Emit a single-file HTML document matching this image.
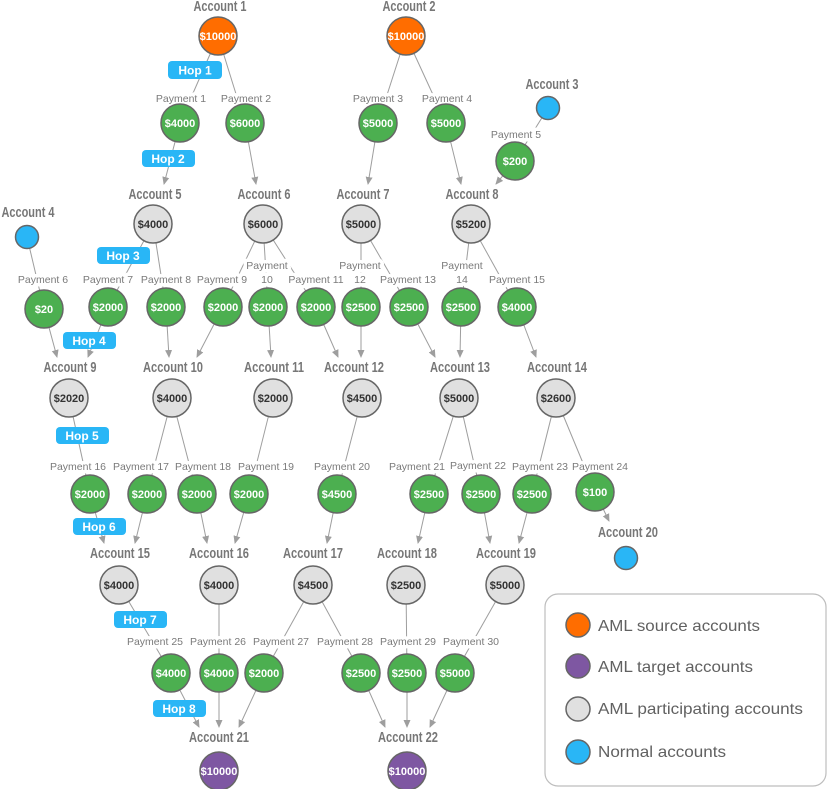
<!DOCTYPE html>
<html><head><meta charset="utf-8"><style>
html,body{margin:0;padding:0;background:#fff;}
svg{display:block;}
.l{stroke:#9e9e9e;stroke-width:1;fill:none;}
.a{stroke:#9e9e9e;stroke-width:1;fill:none;marker-end:url(#ar);}
.acc{font-family:"Liberation Sans",sans-serif;font-weight:bold;font-size:14.5px;fill:#777;text-anchor:middle;}
.pay{font-family:"Liberation Sans",sans-serif;font-size:10.5px;fill:#7a7a7a;text-anchor:middle;stroke:#fff;stroke-width:7px;paint-order:stroke;stroke-linejoin:round;}
.g{fill:#4caf50;stroke:#666;stroke-width:1.5;}
.o{fill:#ff6d00;stroke:#666;stroke-width:1.5;}
.p{fill:#7e57a2;stroke:#666;stroke-width:1.5;}
.y{fill:#e0e0e0;stroke:#666;stroke-width:1.5;}
.b{fill:#29b6f6;stroke:#666;stroke-width:1.5;}
.vw{font-family:"Liberation Sans",sans-serif;font-weight:bold;font-size:11px;fill:#fff;text-anchor:middle;}
.vd{font-family:"Liberation Sans",sans-serif;font-weight:bold;font-size:11px;fill:#333;text-anchor:middle;}
.hop rect{fill:#29b6f6;}
.hop text{font-family:"Liberation Sans",sans-serif;font-weight:bold;font-size:12px;fill:#fff;text-anchor:middle;}
.lg{font-family:"Liberation Sans",sans-serif;font-size:16px;fill:#616161;}
</style></head><body>
<svg width="827" height="789" viewBox="0 0 827 789" xmlns="http://www.w3.org/2000/svg">
<defs><marker id="ar" markerWidth="8" markerHeight="8" refX="7" refY="4" orient="auto" markerUnits="userSpaceOnUse"><path d="M0,0.5 L8,4 L0,7.5 z" fill="#9e9e9e"/></marker></defs>

<g class="l">
<line x1="218" y1="36" x2="180" y2="123"/><line x1="218" y1="36" x2="245" y2="123"/>
<line x1="406" y1="36" x2="378" y2="123"/><line x1="406" y1="36" x2="446" y2="123"/>
<line x1="548" y1="108" x2="515" y2="161"/><line x1="27" y1="237" x2="44" y2="309"/>
<line x1="153" y1="224" x2="108" y2="307"/><line x1="153" y1="224" x2="166" y2="307"/>
<line x1="263" y1="224" x2="223" y2="307"/><line x1="263" y1="224" x2="268" y2="307"/><line x1="263" y1="224" x2="316" y2="307"/>
<line x1="361" y1="224" x2="361" y2="307"/><line x1="361" y1="224" x2="409" y2="307"/>
<line x1="471" y1="224" x2="461" y2="307"/><line x1="471" y1="224" x2="517" y2="307"/>
<line x1="69" y1="398" x2="90" y2="494"/><line x1="172" y1="398" x2="147" y2="494"/><line x1="172" y1="398" x2="197" y2="494"/>
<line x1="273" y1="398" x2="249" y2="494"/><line x1="362" y1="398" x2="337" y2="494"/>
<line x1="459" y1="398" x2="429" y2="494"/><line x1="459" y1="398" x2="481" y2="494"/>
<line x1="556" y1="398" x2="532" y2="494"/><line x1="556" y1="398" x2="595" y2="492"/>
<line x1="119" y1="585" x2="171" y2="673"/><line x1="219" y1="585" x2="219" y2="673"/>
<line x1="313" y1="585" x2="264" y2="673"/><line x1="313" y1="585" x2="361" y2="673"/>
<line x1="406" y1="585" x2="407" y2="673"/><line x1="505" y1="585" x2="455" y2="673"/>
</g>
<g class="a">
<line x1="180" y1="123" x2="164" y2="184"/><line x1="245" y1="123" x2="256" y2="184"/>
<line x1="378" y1="123" x2="368" y2="184"/><line x1="446" y1="123" x2="461" y2="184"/>
<line x1="515" y1="161" x2="496" y2="184"/>
<line x1="44" y1="309" x2="57" y2="357"/><line x1="108" y1="307" x2="88" y2="357"/>
<line x1="166" y1="307" x2="169" y2="357"/><line x1="223" y1="307" x2="197" y2="357"/>
<line x1="268" y1="307" x2="271" y2="357"/><line x1="316" y1="307" x2="338" y2="357"/>
<line x1="361" y1="307" x2="361" y2="357"/><line x1="409" y1="307" x2="435" y2="357"/>
<line x1="461" y1="307" x2="460" y2="357"/><line x1="517" y1="307" x2="536" y2="357"/>
<line x1="90" y1="494" x2="104" y2="543"/><line x1="147" y1="494" x2="135" y2="543"/>
<line x1="197" y1="494" x2="207" y2="543"/><line x1="249" y1="494" x2="235" y2="543"/>
<line x1="337" y1="494" x2="327" y2="543"/><line x1="429" y1="494" x2="418" y2="543"/>
<line x1="481" y1="494" x2="490" y2="543"/><line x1="532" y1="494" x2="519" y2="543"/>
<line x1="595" y1="492" x2="609" y2="521"/>
<line x1="171" y1="673" x2="199" y2="727"/><line x1="219" y1="673" x2="219" y2="727"/>
<line x1="264" y1="673" x2="239" y2="727"/><line x1="361" y1="673" x2="385" y2="727"/>
<line x1="407" y1="673" x2="407" y2="727"/><line x1="455" y1="673" x2="430" y2="727"/>
</g>

<g class="hop">
<rect x="168" y="61" width="54" height="18" rx="4"/><text x="195" y="74.5">Hop 1</text>
<rect x="142" y="150" width="53" height="17" rx="4"/><text x="168" y="163">Hop 2</text>
<rect x="97" y="247" width="53" height="17" rx="4"/><text x="123" y="260">Hop 3</text>
<rect x="63" y="332" width="53" height="17" rx="4"/><text x="89" y="345">Hop 4</text>
<rect x="56" y="427" width="53" height="17" rx="4"/><text x="82" y="440">Hop 5</text>
<rect x="73" y="518" width="53" height="17" rx="4"/><text x="99" y="531">Hop 6</text>
<rect x="114" y="611" width="53" height="17" rx="4"/><text x="140" y="624">Hop 7</text>
<rect x="153" y="700" width="53" height="17" rx="4"/><text x="179" y="713">Hop 8</text>
</g>

<g class="acc">
<text x="220" y="11" textLength="53" lengthAdjust="spacingAndGlyphs">Account 1</text>
<text x="409" y="11" textLength="53" lengthAdjust="spacingAndGlyphs">Account 2</text>
<text x="552" y="89" textLength="53" lengthAdjust="spacingAndGlyphs">Account 3</text>
<text x="28" y="217" textLength="53" lengthAdjust="spacingAndGlyphs">Account 4</text>
<text x="155" y="199" textLength="53" lengthAdjust="spacingAndGlyphs">Account 5</text>
<text x="264" y="199" textLength="53" lengthAdjust="spacingAndGlyphs">Account 6</text>
<text x="363" y="199" textLength="53" lengthAdjust="spacingAndGlyphs">Account 7</text>
<text x="472" y="199" textLength="53" lengthAdjust="spacingAndGlyphs">Account 8</text>
<text x="70" y="372" textLength="53" lengthAdjust="spacingAndGlyphs">Account 9</text>
<text x="173" y="372" textLength="60" lengthAdjust="spacingAndGlyphs">Account 10</text>
<text x="274" y="372" textLength="60" lengthAdjust="spacingAndGlyphs">Account 11</text>
<text x="354" y="372" textLength="60" lengthAdjust="spacingAndGlyphs">Account 12</text>
<text x="460" y="372" textLength="60" lengthAdjust="spacingAndGlyphs">Account 13</text>
<text x="557" y="372" textLength="60" lengthAdjust="spacingAndGlyphs">Account 14</text>
<text x="120" y="558" textLength="60" lengthAdjust="spacingAndGlyphs">Account 15</text>
<text x="219" y="558" textLength="60" lengthAdjust="spacingAndGlyphs">Account 16</text>
<text x="313" y="558" textLength="60" lengthAdjust="spacingAndGlyphs">Account 17</text>
<text x="407" y="558" textLength="60" lengthAdjust="spacingAndGlyphs">Account 18</text>
<text x="506" y="558" textLength="60" lengthAdjust="spacingAndGlyphs">Account 19</text>
<text x="628" y="537" textLength="60" lengthAdjust="spacingAndGlyphs">Account 20</text>
<text x="219" y="742" textLength="60" lengthAdjust="spacingAndGlyphs">Account 21</text>
<text x="408" y="742" textLength="60" lengthAdjust="spacingAndGlyphs">Account 22</text>
</g>

<g class="pay">
<text x="181" y="102">Payment 1</text><text x="246" y="102">Payment 2</text>
<text x="378" y="102">Payment 3</text><text x="447" y="102">Payment 4</text>
<text x="516" y="138">Payment 5</text>
<text x="43" y="283">Payment 6</text><text x="108" y="283">Payment 7</text><text x="166" y="283">Payment 8</text>
<text x="222" y="283">Payment 9</text>
<text x="267" y="269">Payment</text><text x="267" y="283">10</text>
<text x="316" y="283">Payment 11</text>
<text x="360" y="269">Payment</text><text x="360" y="283">12</text>
<text x="408" y="283">Payment 13</text>
<text x="462" y="269">Payment</text><text x="462" y="283">14</text>
<text x="517" y="283">Payment 15</text>
<text x="78" y="470">Payment 16</text><text x="141" y="470">Payment 17</text><text x="203" y="470">Payment 18</text>
<text x="266" y="470">Payment 19</text><text x="342" y="470">Payment 20</text><text x="417" y="470">Payment 21</text>
<text x="478" y="469">Payment 22</text><text x="540" y="470">Payment 23</text><text x="600" y="470">Payment 24</text>
<text x="155" y="645">Payment 25</text><text x="218" y="645">Payment 26</text><text x="281" y="645">Payment 27</text>
<text x="345" y="645">Payment 28</text><text x="408" y="645">Payment 29</text><text x="471" y="645">Payment 30</text>
</g>

<circle class="o" cx="218" cy="36" r="19"/><text class="vw" x="218" y="40">$10000</text>
<circle class="o" cx="406" cy="36" r="19"/><text class="vw" x="406" y="40">$10000</text>
<circle class="b" cx="548" cy="108" r="11.5"/>
<circle class="b" cx="27" cy="237" r="11.5"/>
<circle class="b" cx="626" cy="558" r="11.5"/>

<circle class="g" cx="180" cy="123" r="19"/><text class="vw" x="180" y="127">$4000</text>
<circle class="g" cx="245" cy="123" r="19"/><text class="vw" x="245" y="127">$6000</text>
<circle class="g" cx="378" cy="123" r="19"/><text class="vw" x="378" y="127">$5000</text>
<circle class="g" cx="446" cy="123" r="19"/><text class="vw" x="446" y="127">$5000</text>
<circle class="g" cx="515" cy="161" r="19"/><text class="vw" x="515" y="165">$200</text>

<circle class="y" cx="153" cy="224" r="19"/><text class="vd" x="153" y="228">$4000</text>
<circle class="y" cx="263" cy="224" r="19"/><text class="vd" x="263" y="228">$6000</text>
<circle class="y" cx="361" cy="224" r="19"/><text class="vd" x="361" y="228">$5000</text>
<circle class="y" cx="471" cy="224" r="19"/><text class="vd" x="471" y="228">$5200</text>

<circle class="g" cx="44" cy="309" r="19"/><text class="vw" x="44" y="313">$20</text>
<circle class="g" cx="108" cy="307" r="19"/><text class="vw" x="108" y="311">$2000</text>
<circle class="g" cx="166" cy="307" r="19"/><text class="vw" x="166" y="311">$2000</text>
<circle class="g" cx="223" cy="307" r="19"/><text class="vw" x="223" y="311">$2000</text>
<circle class="g" cx="268" cy="307" r="19"/><text class="vw" x="268" y="311">$2000</text>
<circle class="g" cx="316" cy="307" r="19"/><text class="vw" x="316" y="311">$2000</text>
<circle class="g" cx="361" cy="307" r="19"/><text class="vw" x="361" y="311">$2500</text>
<circle class="g" cx="409" cy="307" r="19"/><text class="vw" x="409" y="311">$2500</text>
<circle class="g" cx="461" cy="307" r="19"/><text class="vw" x="461" y="311">$2500</text>
<circle class="g" cx="517" cy="307" r="19"/><text class="vw" x="517" y="311">$4000</text>

<circle class="y" cx="69" cy="398" r="19"/><text class="vd" x="69" y="402">$2020</text>
<circle class="y" cx="172" cy="398" r="19"/><text class="vd" x="172" y="402">$4000</text>
<circle class="y" cx="273" cy="398" r="19"/><text class="vd" x="273" y="402">$2000</text>
<circle class="y" cx="362" cy="398" r="19"/><text class="vd" x="362" y="402">$4500</text>
<circle class="y" cx="459" cy="398" r="19"/><text class="vd" x="459" y="402">$5000</text>
<circle class="y" cx="556" cy="398" r="19"/><text class="vd" x="556" y="402">$2600</text>

<circle class="g" cx="90" cy="494" r="19"/><text class="vw" x="90" y="498">$2000</text>
<circle class="g" cx="147" cy="494" r="19"/><text class="vw" x="147" y="498">$2000</text>
<circle class="g" cx="197" cy="494" r="19"/><text class="vw" x="197" y="498">$2000</text>
<circle class="g" cx="249" cy="494" r="19"/><text class="vw" x="249" y="498">$2000</text>
<circle class="g" cx="337" cy="494" r="19"/><text class="vw" x="337" y="498">$4500</text>
<circle class="g" cx="429" cy="494" r="19"/><text class="vw" x="429" y="498">$2500</text>
<circle class="g" cx="481" cy="494" r="19"/><text class="vw" x="481" y="498">$2500</text>
<circle class="g" cx="532" cy="494" r="19"/><text class="vw" x="532" y="498">$2500</text>
<circle class="g" cx="595" cy="492" r="19"/><text class="vw" x="595" y="496">$100</text>

<circle class="y" cx="119" cy="585" r="19"/><text class="vd" x="119" y="589">$4000</text>
<circle class="y" cx="219" cy="585" r="19"/><text class="vd" x="219" y="589">$4000</text>
<circle class="y" cx="313" cy="585" r="19"/><text class="vd" x="313" y="589">$4500</text>
<circle class="y" cx="406" cy="585" r="19"/><text class="vd" x="406" y="589">$2500</text>
<circle class="y" cx="505" cy="585" r="19"/><text class="vd" x="505" y="589">$5000</text>

<circle class="g" cx="171" cy="673" r="19"/><text class="vw" x="171" y="677">$4000</text>
<circle class="g" cx="219" cy="673" r="19"/><text class="vw" x="219" y="677">$4000</text>
<circle class="g" cx="264" cy="673" r="19"/><text class="vw" x="264" y="677">$2000</text>
<circle class="g" cx="361" cy="673" r="19"/><text class="vw" x="361" y="677">$2500</text>
<circle class="g" cx="407" cy="673" r="19"/><text class="vw" x="407" y="677">$2500</text>
<circle class="g" cx="455" cy="673" r="19"/><text class="vw" x="455" y="677">$5000</text>

<circle class="p" cx="219" cy="771" r="19"/><text class="vw" x="219" y="775">$10000</text>
<circle class="p" cx="407" cy="771" r="19"/><text class="vw" x="407" y="775">$10000</text>

<rect x="545" y="594" width="281" height="192" rx="13" fill="#fff" stroke="#bdbdbd" stroke-width="1.2"/>
<circle class="o" cx="578" cy="625" r="12"/><text class="lg" x="598" y="631" textLength="162" lengthAdjust="spacingAndGlyphs">AML source accounts</text>
<circle class="p" cx="578" cy="666" r="12"/><text class="lg" x="598" y="672" textLength="155" lengthAdjust="spacingAndGlyphs">AML target accounts</text>
<circle class="y" cx="578" cy="709" r="12"/><text class="lg" x="598" y="714" textLength="205" lengthAdjust="spacingAndGlyphs">AML participating accounts</text>
<circle class="b" cx="578" cy="752" r="12"/><text class="lg" x="598" y="757" textLength="128" lengthAdjust="spacingAndGlyphs">Normal accounts</text>
</svg>
</body></html>
